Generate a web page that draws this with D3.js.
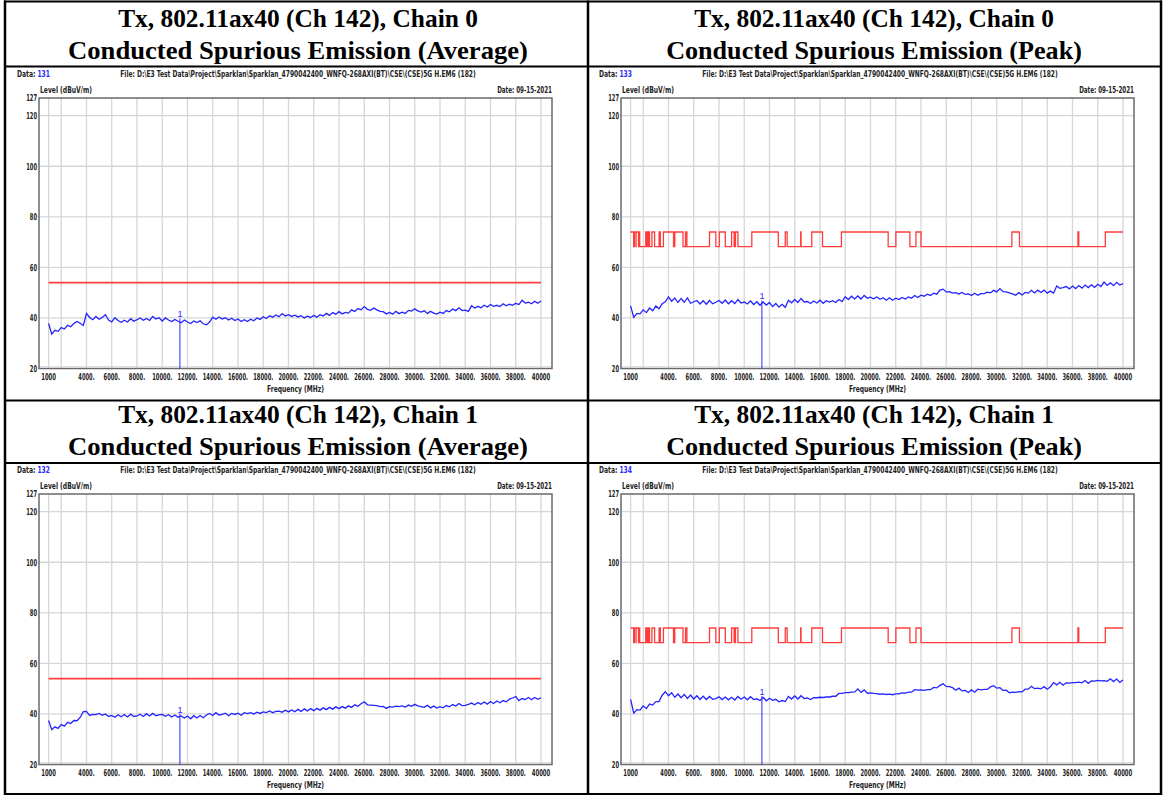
<!DOCTYPE html>
<html>
<head>
<meta charset="utf-8">
<script src="https://cdn.jsdelivr.net/npm/d3@7"></script>
<style>
  body { margin: 0; background: #fff; }
  svg text.small { font-family: "Liberation Sans Narrow", "Arial Narrow", "DejaVu Sans Condensed", sans-serif; font-weight: bold; font-size: 9.5px; fill: #222; }
  svg text.title { font-family: "Liberation Serif", "Times New Roman", Tinos, serif; font-weight: bold; font-size: 26px; fill: #000; }
</style>
</head>
<body>
<div id="chart"></div>
<script>
// sweep: 1000 MHz .. 40000 MHz, one reading every 250 MHz
const FREQ_START = 1000, FREQ_STEP = 250

const avgChain0 = [37.8, 33.6, 35.1, 34.7, 36.2, 35.6, 37.1, 36.5, 37.8, 38.6, 37.9, 37.0, 41.8, 40.2, 39.3, 40.6,
  39.5, 40.2, 41.3, 39.2, 38.4, 40.1, 39.0, 38.3, 39.1, 38.4, 39.7, 38.7, 39.3, 40.0, 39.1, 39.8,
  39.0, 40.6, 39.6, 40.1, 38.8, 40.0, 39.2, 38.6, 39.4, 38.7, 38.1, 39.2, 38.4, 37.8, 38.8, 38.2,
  38.9, 37.7, 37.3, 38.4, 40.3, 39.5, 40.4, 39.6, 40.1, 39.2, 39.9, 39.0, 39.6, 38.6, 39.3, 38.6,
  39.5, 38.9, 40.0, 39.4, 40.5, 39.8, 40.9, 40.3, 41.2, 40.5, 41.7, 40.8, 41.3, 40.6, 41.1, 40.4,
  40.9, 40.0, 40.7, 40.2, 41.0, 40.3, 41.3, 40.8, 41.8, 41.0, 42.1, 41.5, 42.5, 41.6, 42.2, 41.9,
  43.2, 42.6, 43.7, 43.2, 44.5, 43.4, 43.0, 43.9, 43.2, 42.6, 42.5, 41.6, 42.2, 41.5, 42.6, 41.7,
  42.3, 41.8, 43.0, 42.7, 43.6, 42.8, 42.3, 42.8, 41.8, 42.6, 41.9, 41.5, 42.3, 41.8, 42.9, 42.4,
  43.5, 42.9, 44.0, 42.9, 43.1, 42.6, 44.8, 43.9, 44.6, 44.0, 45.0, 44.3, 45.3, 44.6, 45.0, 44.5,
  45.6, 44.8, 45.4, 45.0, 45.8, 45.3, 47.0, 45.9, 46.2, 45.6, 46.6, 45.8, 46.7]

const avgChain1 = [37.4, 33.8, 34.9, 34.3, 35.8, 35.2, 36.7, 36.2, 37.4, 37.3, 38.6, 40.9, 41.0, 39.4, 39.8, 39.7,
  40.2, 39.5, 40.0, 39.0, 39.4, 38.7, 39.7, 38.9, 39.8, 38.8, 39.9, 39.0, 39.2, 39.9, 39.0, 40.1,
  39.2, 40.2, 39.3, 39.6, 39.8, 39.1, 39.7, 38.8, 39.6, 38.7, 39.2, 38.4, 39.2, 38.1, 39.3, 38.4,
  39.4, 38.5, 39.6, 40.2, 39.4, 40.5, 39.6, 39.8, 40.3, 39.3, 40.2, 39.8, 40.3, 39.5, 40.5, 40.1,
  40.5, 40.0, 40.7, 40.2, 40.8, 40.5, 41.2, 40.5, 41.0, 41.1, 40.7, 41.5, 40.8, 41.6, 40.9, 41.8,
  41.0, 42.0, 41.2, 42.1, 41.3, 42.2, 41.5, 42.4, 41.7, 42.6, 41.9, 42.8, 42.1, 42.9, 42.3, 43.2,
  42.6, 43.6, 43.0, 44.0, 44.8, 43.6, 43.5, 43.4, 43.3, 42.9, 43.0, 42.2, 42.9, 42.7, 43.1, 42.9,
  43.2, 42.7, 43.5, 43.0, 43.8, 43.2, 42.9, 42.6, 43.4, 42.4, 43.1, 42.3, 42.9, 42.4, 43.3, 42.8,
  43.7, 43.1, 44.1, 43.3, 43.4, 43.8, 44.3, 43.6, 44.5, 43.8, 44.7, 43.9, 44.9, 44.1, 45.1, 44.4,
  45.3, 44.8, 45.9, 46.3, 46.9, 45.3, 46.1, 45.7, 46.5, 45.6, 46.5, 45.8, 46.4]

const peakChain0 = [44.8, 40.2, 41.8, 41.6, 43.2, 42.1, 43.9, 42.8, 44.7, 43.6, 45.6, 46.4, 48.3, 46.6, 47.9, 46.1,
  47.7, 46.2, 47.9, 45.8, 46.4, 46.9, 45.5, 46.8, 45.4, 46.9, 45.6, 46.2, 46.9, 45.8, 47.1, 45.6,
  46.8, 45.7, 47.3, 45.9, 46.3, 45.5, 46.7, 45.3, 46.4, 45.0, 46.3, 45.1, 46.1, 44.5, 45.7, 44.3,
  45.4, 44.2, 47.0, 46.0, 47.3, 46.1, 47.7, 46.3, 46.5, 45.7, 46.7, 45.9, 47.0, 45.8, 46.8, 46.3,
  46.8, 46.1, 47.3, 46.5, 48.4, 47.3, 48.6, 47.5, 48.7, 47.5, 48.9, 47.8, 48.2, 47.6, 48.3, 47.4,
  48.0, 47.0, 48.0, 47.0, 47.8, 47.3, 48.1, 47.5, 48.3, 47.8, 48.9, 48.1, 49.0, 48.6, 49.4, 48.9,
  49.8, 49.4, 51.0, 51.4, 50.3, 50.4, 49.8, 50.0, 49.5, 50.1, 49.3, 49.5, 48.9, 49.8, 49.0, 49.6,
  49.6, 50.2, 49.9, 50.9, 50.3, 51.6, 50.4, 50.3, 49.9, 49.5, 49.0, 50.0, 49.1, 50.1, 49.8, 50.9,
  49.9, 51.0, 50.1, 51.0, 49.8, 50.6, 49.8, 52.6, 51.7, 52.0, 52.4, 51.5, 52.6, 51.6, 52.8, 51.8,
  53.0, 52.0, 53.1, 52.1, 53.3, 52.4, 54.2, 52.9, 53.9, 52.8, 54.1, 53.0, 53.6]

const peakChain1 = [45.8, 40.3, 41.7, 41.5, 43.2, 42.1, 43.9, 43.5, 44.9, 44.9, 47.4, 48.8, 47.2, 48.4, 46.6, 47.9,
  46.4, 47.7, 46.1, 47.5, 45.9, 47.2, 45.7, 47.0, 45.7, 46.9, 45.8, 46.1, 46.8, 45.7, 46.7, 45.6,
  46.6, 45.5, 46.9, 45.8, 46.7, 45.6, 46.8, 45.7, 46.0, 45.3, 46.5, 45.2, 46.2, 45.4, 45.8, 44.8,
  45.3, 44.9, 46.9, 45.9, 47.1, 45.9, 47.2, 46.1, 46.3, 45.7, 46.4, 46.4, 46.6, 46.5, 46.7, 46.7,
  47.0, 47.0, 48.1, 48.1, 48.4, 48.4, 48.6, 48.7, 49.9, 48.5, 49.5, 48.2, 48.3, 48.1, 48.0, 47.8,
  47.9, 47.7, 47.8, 47.6, 47.9, 47.9, 48.3, 48.2, 48.6, 48.6, 49.6, 49.4, 49.5, 49.3, 49.6, 49.6,
  50.5, 50.3, 51.3, 51.9, 50.9, 50.8, 50.4, 49.4, 50.2, 49.1, 49.3, 48.5, 49.5, 48.6, 49.8, 49.5,
  49.7, 49.7, 50.7, 51.2, 50.2, 50.4, 49.3, 49.4, 48.4, 48.6, 48.5, 48.8, 48.7, 49.8, 49.8, 50.9,
  50.0, 50.2, 49.9, 50.8, 49.8, 50.7, 52.4, 51.5, 52.5, 51.4, 52.3, 52.2, 52.4, 52.4, 52.6, 52.3,
  53.2, 52.1, 53.1, 53.0, 53.3, 53.1, 53.2, 52.9, 53.9, 52.8, 53.8, 52.5, 53.4]

// restricted bands (MHz) -> 74 dBuV/m, elsewhere 68.2 dBuV/m
const restrictedBands = [[960, 1240], [1300, 1427], [1435, 1626.5], [1645.5, 1646.5], [1660, 1710],
  [1718.8, 1722.2], [2200, 2300], [2310, 2390], [2483.5, 2500], [2690, 2900], [3260, 3267],
  [3332, 3339], [3345.8, 3358], [3600, 4400], [4500, 5150], [5350, 5460], [7250, 7750],
  [8025, 8500], [9000, 9200], [9300, 9500], [10600, 12700], [13250, 13400], [14470, 14500],
  [15350, 16200], [17700, 21400], [22010, 23120], [23600, 24000], [31200, 31800],
  [36430, 36500], [38600, 40000]]
const avgLimit = 54
const peakLimitHigh = 74, peakLimitLow = 68.2

const xTicks = [1000, 4000, 6000, 8000, 10000, 12000, 14000, 16000, 18000, 20000,
  22000, 24000, 26000, 28000, 30000, 32000, 34000, 36000, 38000, 40000]
const xTickLabels = ['1000', '4000.', '6000.', '8000.', '10000.', '12000.', '14000.', '16000.', '18000.', '20000.',
  '22000.', '24000.', '26000.', '28000.', '30000.', '32000.', '34000.', '36000.', '38000.', '40000']
const xGrid = [1000, 2000, 4000, 6000, 8000, 10000, 12000, 14000, 16000, 18000, 20000,
  22000, 24000, 26000, 28000, 30000, 32000, 34000, 36000, 38000, 40000]
const yTicks = [20, 40, 60, 80, 100, 120, 127]
const yGrid = [40, 60, 80, 100, 120]

const titleLine1 = ['Tx, 802.11ax40 (Ch 142), Chain 0', 'Tx, 802.11ax40 (Ch 142), Chain 0',
  'Tx, 802.11ax40 (Ch 142), Chain 1', 'Tx, 802.11ax40 (Ch 142), Chain 1']
const titleLine2 = ['Conducted Spurious Emission (Average)', 'Conducted Spurious Emission (Peak)',
  'Conducted Spurious Emission (Average)', 'Conducted Spurious Emission (Peak)']
const dataNumbers = ['131', '133', '132', '134']
const fileName = 'File: D:\\E3 Test Data\\Project\\Sparklan\\Sparklan_4790042400_WNFQ-268AXI(BT)\\CSE\\(CSE)5G H.EM6  (182)'
const dateText = 'Date: 09-15-2021'
const markerFreq = 11400
const markerLevels = [38.5, 45.6, 38.8, 45.8]
const traces = [avgChain0, peakChain0, avgChain1, peakChain1]
const isPeak = [false, true, false, true]

// peak limit as a step line
const peakLimitPoints = []
let cur = FREQ_START
restrictedBands.forEach(([a, b]) => {
    const s = Math.max(a, 1000), e = Math.min(b, 40000)
    if (e <= s) return
    if (s > cur) peakLimitPoints.push([cur, peakLimitLow], [s, peakLimitLow])
    peakLimitPoints.push([s, peakLimitHigh], [e, peakLimitHigh])
    cur = e
})
if (cur < 40000) peakLimitPoints.push([cur, peakLimitLow], [40000, peakLimitLow])

const W = 1163, H = 795
const svg = d3.select('#chart').append('svg').attr('width', W).attr('height', H)

// squeeze a text horizontally to a given width (the source uses a very narrow font)
const fitText = (t, x, y, width) => {
    const len = t.node().getComputedTextLength()
    t.attr('transform', `translate(${x},${y}) scale(${width / len},1)`)
    return t
}
const addText = (parent, cls, x, y, anchor, txt, width) =>
    fitText(parent.append('text').attr('class', cls).attr('text-anchor', anchor).text(txt), x, y, width)

// panel origins (chart cells) and title cell centres / baselines
const cells = [
    { ox: 5, oy: 67, cx: 298, t1: 27, t2: 59 },
    { ox: 587, oy: 67, cx: 874, t1: 27, t2: 59 },
    { ox: 5, oy: 463, cx: 298, t1: 423, t2: 455 },
    { ox: 587, oy: 463, cx: 874, t1: 423, t2: 455 }
]

const drawPanel = (i) => {
    const c = cells[i]
    const g = svg.append('g').attr('transform', `translate(${c.ox},${c.oy})`)
    const box = { l: 34, r: 547, t: 31, b: 301.5 }
    const x = d3.scaleLinear().domain([1000, 40000]).range([43.6, 536])
    const y = d3.scaleLinear().domain([20, 127]).range([box.b, box.t])

    // header texts
    const dt = g.append('text').attr('class', 'small')
    dt.append('tspan').text('Data: ')
    dt.append('tspan').attr('fill', '#2a2aff').text(dataNumbers[i])
    fitText(dt, 12, 10, 33)
    addText(g, 'small', 293, 10, 'middle', fileName, 356)
    addText(g, 'small', 35, 26, 'start', 'Level (dBuV/m)', 52)
    addText(g, 'small', box.r, 26, 'end', dateText, 55)

    // grid
    g.selectAll('.vg').data(xGrid).enter().append('line')
        .attr('x1', d => x(d)).attr('x2', d => x(d)).attr('y1', box.t).attr('y2', box.b)
        .attr('stroke', '#d6d6d6').attr('stroke-width', 1.3)
    g.selectAll('.hg').data(yGrid).enter().append('line')
        .attr('x1', box.l).attr('x2', box.r).attr('y1', d => y(d)).attr('y2', d => y(d))
        .attr('stroke', '#d6d6d6').attr('stroke-width', 1.3)
    g.append('line').attr('x1', box.l).attr('x2', box.r).attr('y1', box.b - 2).attr('y2', box.b - 2)
        .attr('stroke', '#dedede').attr('stroke-width', 1)

    // box
    g.append('rect').attr('x', box.l).attr('y', box.t).attr('width', box.r - box.l).attr('height', box.b - box.t)
        .attr('fill', 'none').attr('stroke', '#6a6a6a').attr('stroke-width', 1.5)

    // y labels
    yTicks.forEach(d => addText(g, 'small', box.l - 2, y(d) + 3.3, 'end', String(d), String(d).length * 3.6))

    // x labels
    xTicks.forEach((d, k) => {
        const s = xTickLabels[k]
        addText(g, 'small', x(d), 313, 'middle', s, s.replace('.', '').length * 3.7 + (s.includes('.') ? 1.5 : 0))
    })
    addText(g, 'small', (box.l + box.r) / 2, 325, 'middle', 'Frequency (MHz)', 57)

    // limit
    if (isPeak[i]) {
        g.append('path').datum(peakLimitPoints)
            .attr('d', d3.line().x(d => x(d[0])).y(d => y(d[1])))
            .attr('fill', 'none').attr('stroke', '#ff3c3c').attr('stroke-width', 1.3)
    } else {
        g.append('line').attr('x1', x(1000)).attr('x2', x(40000)).attr('y1', y(avgLimit)).attr('y2', y(avgLimit))
            .attr('stroke', '#ff3c3c').attr('stroke-width', 1.7)
    }

    // trace
    g.append('path').datum(traces[i])
        .attr('d', d3.line().x((d, k) => x(FREQ_START + k * FREQ_STEP)).y(d => y(d)))
        .attr('fill', 'none').attr('stroke', '#2424ff').attr('stroke-width', 1.3)

    // marker 1
    g.append('line').attr('x1', x(markerFreq)).attr('x2', x(markerFreq))
        .attr('y1', y(markerLevels[i] + 1.3)).attr('y2', y(20))
        .attr('stroke', '#2a2aff').attr('stroke-width', 1)
    g.append('text').attr('x', x(markerFreq)).attr('y', y(markerLevels[i] + 1.7))
        .attr('text-anchor', 'middle').attr('fill', '#2a2aff')
        .style('font-family', '"Liberation Sans", sans-serif').style('font-size', '9px').text('1')

    // titles
    addText(svg, 'title', c.cx, c.t1, 'middle', titleLine1[i], 360)
    addText(svg, 'title', c.cx, c.t2, 'middle', titleLine2[i], isPeak[i] ? 416 : 460)
}

d3.range(4).forEach(drawPanel)

// table rules
const hRules = [1.5, 66.5, 400.5, 463, 794]
const vRules = [5, 588, 1161]
svg.selectAll('.hr').data(hRules).enter().append('line')
    .attr('x1', 4).attr('x2', 1162).attr('y1', d => d).attr('y2', d => d)
    .attr('stroke', '#000').attr('stroke-width', 2.2)
svg.selectAll('.vr').data(vRules).enter().append('line')
    .attr('x1', d => d).attr('x2', d => d).attr('y1', 0.5).attr('y2', 795)
    .attr('stroke', '#000').attr('stroke-width', 2.5)
</script>
</body>
</html>
